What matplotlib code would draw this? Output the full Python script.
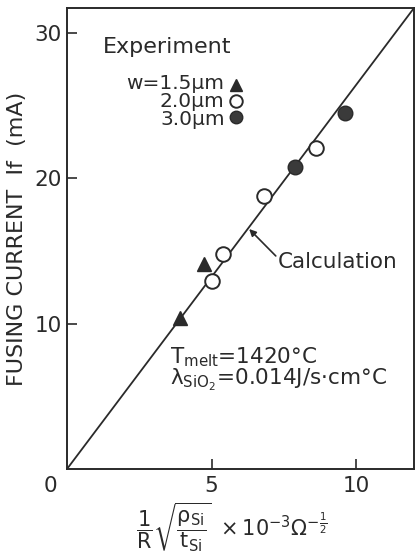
import matplotlib
matplotlib.use('Agg')
import matplotlib.pyplot as plt

plt.rcParams['font.family'] = ['DejaVu Sans']
plt.rcParams['mathtext.fontset'] = 'dejavusans'

ink = '#2a2a2a'

w15_x = [3.9, 4.75]
w15_y = [10.4, 14.1]
w20_x = [5.0, 5.4, 6.8, 8.6]
w20_y = [12.9, 14.8, 18.8, 22.1]
w30_x = [7.9, 9.6]
w30_y = [20.8, 24.5]

# Calculated line (through origin)
calc_x = [0, 12.0]
calc_y = [0, 31.7]

xticks = [5, 10]
yticks = [10, 20, 30]

fig = plt.figure(figsize=(4.16, 5.54), dpi=100)
ax = fig.add_axes([67/416, 1 - 469/554, (414 - 67)/416, (469 - 8)/554])

ax.plot(calc_x, calc_y, color=ink, lw=1.3, zorder=2)
ax.plot(w15_x, w15_y, linestyle='none', marker='^', ms=10, color=ink, zorder=3)
ax.plot(w20_x, w20_y, linestyle='none', marker='o', ms=10.5, mfc='white',
        mec=ink, mew=1.4, zorder=3)
ax.plot(w30_x, w30_y, linestyle='none', marker='o', ms=10.5, mfc='#3a3a3a',
        mec=ink, mew=1.0, zorder=3)

ax.set_xlim(0, 12.0)
ax.set_ylim(0, 31.7)
ax.set_xticks(xticks)
ax.set_yticks(yticks)
ax.tick_params(direction='in', length=7, width=1.2, labelsize=15.5,
               colors=ink, pad=5)
ax.tick_params(axis='y', pad=4)
for s in ax.spines.values():
    s.set_linewidth(1.4)
    s.set_color(ink)

fig.text(50/416, 1 - 486/554, '0', fontsize=15.5, color=ink,
         ha='center', va='center')

ax.set_ylabel('FUSING CURRENT  If  (mA)', fontsize=16, color=ink, labelpad=5)
fig.text(232/416, 1 - 527/554,
         r'$\dfrac{1}{\mathrm{R}}\sqrt{\dfrac{\mathrm{\rho_{Si}}}{\mathrm{t_{Si}}}}\ \times 10^{-3}\Omega^{-\frac{1}{2}}$',
         fontsize=15, color=ink, ha='center', va='center')

# legend, drawn by hand like the original
ax.text(1.24, 29.0, 'Experiment', fontsize=16, color=ink, va='center')
leg_y = [26.4, 25.3, 24.2]
leg_lbl = [u'w=1.5\u03bcm', u'2.0\u03bcm', u'3.0\u03bcm']
ax.text(5.45, leg_y[1], '\n'.join(leg_lbl), fontsize=14.5, color=ink,
        ha='right', va='center', multialignment='right', linespacing=0.93)
ax.plot([5.85], [leg_y[0]], marker='^', ms=9, color=ink, linestyle='none')
ax.plot([5.85], [leg_y[1]], marker='o', ms=9, mfc='white', mec=ink, mew=1.4,
        linestyle='none')
ax.plot([5.85], [leg_y[2]], marker='o', ms=9, mfc='#3a3a3a', mec=ink,
        linestyle='none')

ax.annotate('', xy=(6.3, 16.5), xytext=(7.22, 14.65),
            arrowprops=dict(arrowstyle='-|>', color=ink, lw=1.2,
                            shrinkA=0, shrinkB=0, mutation_scale=10))
ax.text(7.28, 14.2, 'Calculation', fontsize=15.5, color=ink, va='center')

ax.text(3.55, 7.7, r'$\mathrm{T_{melt}}$=1420°C', fontsize=15.5, color=ink,
        va='center')
ax.text(3.55, 6.1, r'λ$_{\mathrm{SiO_2}}$=0.014J/s·cm°C', fontsize=15.5,
        color=ink, va='center')

fig.savefig('out.png', dpi=100)
